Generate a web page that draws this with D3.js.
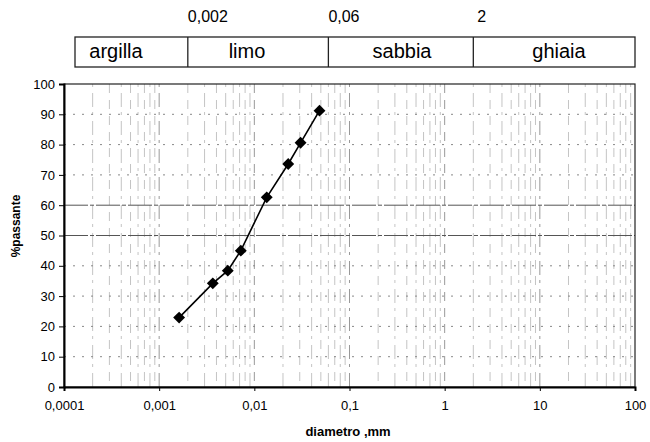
<!DOCTYPE html>
<meta charset="utf-8">
<style>
body { margin: 0; background: #fff; }
svg { font-family: "Liberation Sans", Arial, sans-serif; }
</style>
<svg width="650" height="442"></svg>
<script src="https://d3js.org/d3.v7.min.js"></script>
<script>

// grain size curve (diameter in mm, % passing)
var diameters = [0.00162, 0.00366, 0.00526, 0.00721, 0.0135, 0.0227, 0.0306, 0.0484];
var passing   = [22.9, 34.2, 38.4, 45.0, 62.6, 73.6, 80.6, 91.2];

// soil classes and their limits
var classNames  = ["argilla", "limo", "sabbia", "ghiaia"];
var classLimits = [0.002, 0.06, 2];
var limitLabels = ["0,002", "0,06", "2"];

var xTicks = [0.0001, 0.001, 0.01, 0.1, 1, 10, 100];
var xTickLabels = ["0,0001", "0,001", "0,01", "0,1", "1", "10", "100"];
var yTicks = [0, 10, 20, 30, 40, 50, 60, 70, 80, 90, 100];

var svg = d3.select("svg");

var x = d3.scaleLog().domain([0.0001, 100]).range([64, 635]);
var y = d3.scaleLinear().domain([0, 100]).range([387, 84]);

// minor decade values for vertical grid
var minor = [];
for (var e = -4; e < 2; e++) {
  for (var m = 1; m < 10; m++) minor.push(m * Math.pow(10, e));
}

var grid = svg.append("g");

grid.selectAll(".vg")
  .data(minor.filter(function(d) { return d > 0.0001; }))
  .enter().append("line")
    .attr("x1", function(d) { return x(d); })
    .attr("x2", function(d) { return x(d); })
    .attr("y1", y(100))
    .attr("y2", y(0))
    .style("stroke", function(d, i) { return i % 9 === 8 ? "#999" : "#c4c4c4"; })
    .style("stroke-dasharray", function(d, i) { return i % 2 ? "9,7" : "3,6,14,5"; });

grid.selectAll(".hg")
  .data(yTicks.slice(1, -1))
  .enter().append("line")
    .attr("x1", x(0.0001))
    .attr("x2", x(100))
    .attr("y1", function(d) { return y(d); })
    .attr("y2", function(d) { return y(d); })
    .style("stroke", function(d) { return (d === 50 || d === 60) ? "#555" : "#888"; })
    .style("stroke-dasharray", function(d) { return (d === 50 || d === 60) ? "24,2,4,2" : "2,7"; });

// frame
svg.append("rect")
  .attr("x", x(0.0001)).attr("y", y(100))
  .attr("width", x(100) - x(0.0001)).attr("height", y(0) - y(100))
  .attr("fill", "none").attr("stroke", "#222").attr("stroke-width", 1.2);

// axes
var xAxis = d3.axisBottom(x).tickValues(xTicks)
  .tickFormat(function(d, i) { return xTickLabels[i]; })
  .tickSizeOuter(0).tickSize(4).tickPadding(10);

var gx = svg.append("g")
  .attr("transform", "translate(0," + y(0) + ")")
  .call(xAxis);
gx.select(".domain").attr("stroke-width", 2);
gx.selectAll("text").style("font-size", "13px").attr("fill", "#000");

var yAxis = d3.axisLeft(y).tickValues(yTicks)
  .tickSizeOuter(0).tickSize(5).tickPadding(4);

var gy = svg.append("g")
  .attr("transform", "translate(" + x(0.0001) + ",0)")
  .call(yAxis);
gy.select(".domain").attr("stroke-width", 2);
gy.selectAll("text").style("font-size", "13px").attr("fill", "#000");

svg.append("text")
  .attr("x", 348).attr("y", 436)
  .attr("text-anchor", "middle")
  .style("font-size", "13px").style("font-weight", "bold")
  .text("diametro ,mm");

svg.append("text")
  .attr("transform", "translate(20,226) rotate(-90)")
  .attr("text-anchor", "middle")
  .style("font-size", "12px").style("font-weight", "bold")
  .text("%passante");

// curve
var line = d3.line()
  .x(function(d) { return x(d[0]); })
  .y(function(d) { return y(d[1]); });

var pts = d3.zip(diameters, passing);

svg.append("path")
  .datum(pts)
  .attr("d", line)
  .attr("fill", "none")
  .attr("stroke", "#000")
  .attr("stroke-width", 1.6);

svg.selectAll(".pt")
  .data(pts)
  .enter().append("path")
    .attr("d", d3.symbol().type(d3.symbolDiamond2).size(90))
    .attr("transform", function(d) { return "translate(" + x(d[0]) + "," + y(d[1]) + ")"; })
    .attr("fill", "#000");

// class header
var boxL = 75, boxR = 635, boxT = 37, boxB = 67;
var nameX = [116, 247, 402, 559];

var head = svg.append("g");
head.append("rect")
  .attr("x", boxL).attr("y", boxT)
  .attr("width", boxR - boxL).attr("height", boxB - boxT)
  .attr("fill", "none").attr("stroke", "#222").attr("stroke-width", 1.3);

head.selectAll(".div")
  .data(classLimits)
  .enter().append("line")
    .attr("x1", function(d) { return x(d); })
    .attr("x2", function(d) { return x(d); })
    .attr("y1", boxT).attr("y2", boxB)
    .attr("stroke", "#222").attr("stroke-width", 1.3);

head.selectAll(".cls")
  .data(classNames)
  .enter().append("text")
    .attr("x", function(d, i) { return nameX[i]; })
    .attr("y", 58)
    .attr("text-anchor", "middle")
    .style("font-size", "20px")
    .text(function(d) { return d; });

head.selectAll(".lim")
  .data(limitLabels)
  .enter().append("text")
    .attr("x", function(d, i) { return x(classLimits[i]) + (i === 2 ? 4 : 0); })
    .attr("y", 22)
    .style("font-size", "16px")
    .text(function(d) { return d; });

</script>
